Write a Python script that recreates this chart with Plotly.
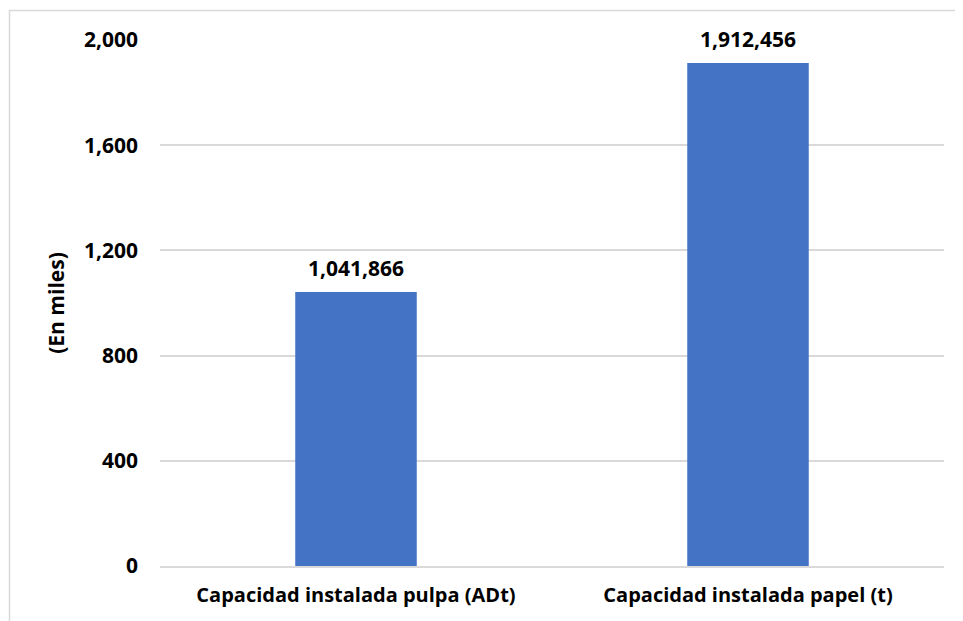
import plotly.graph_objects as go

categories = ["Capacidad instalada pulpa (ADt)", "Capacidad instalada papel (t)"]
values_thousands = [1041.866, 1912.456]
value_labels = ["1,041,866", "1,912,456"]
y_ticks = [0, 400, 800, 1200, 1600, 2000]
y_tick_labels = ["0", "400", "800", "1,200", "1,600", "2,000"]

FONT = "Open Sans"

W, H = 955, 613
L, T = 152, 32
PW, PH = 784, 526

fig = go.Figure()
fig.add_trace(go.Bar(
    x=categories,
    y=values_thousands,
    marker=dict(color="#4472C4", line=dict(width=0)),
    width=0.31,
    hoverinfo="skip",
))

for c, v, t in zip(categories, values_thousands, value_labels):
    fig.add_annotation(
        x=c, y=v, text=t, showarrow=False, yanchor="bottom", yshift=8,
        font=dict(family=FONT, size=21, color="#000000", weight="bold"),
    )

fig.add_shape(
    type="rect", xref="paper", yref="paper",
    x0=(1.5 - L) / PW, x1=1.2, y0=-0.3, y1=(T + PH - 2.5) / PH,
    line=dict(color="#d9d9d9", width=1.5), fillcolor="rgba(0,0,0,0)", layer="below",
)

fig.update_layout(
    width=W, height=H,
    margin=dict(l=L, r=W - L - PW, t=T, b=H - T - PH),
    paper_bgcolor="white", plot_bgcolor="white",
    showlegend=False,
    font=dict(family=FONT, size=20, color="#000000"),
    xaxis=dict(
        showgrid=False, showline=True, linecolor="#d9d9d9", linewidth=1.5,
        ticks="", tickfont=dict(family=FONT, size=20, weight="bold"),
        ticklabelstandoff=10,
        fixedrange=True,
    ),
    yaxis=dict(
        range=[0, 2000], tickvals=y_ticks, ticktext=y_tick_labels,
        showgrid=True, gridcolor="#d9d9d9", gridwidth=1.5,
        zeroline=False, showline=False, ticks="",
        tickfont=dict(family=FONT, size=21, weight="bold"),
        ticklabelstandoff=21,
        title=dict(text="(En miles)", font=dict(family=FONT, size=21, weight="bold"), standoff=13),
        fixedrange=True,
    ),
)

fig.write_html("out.html")
